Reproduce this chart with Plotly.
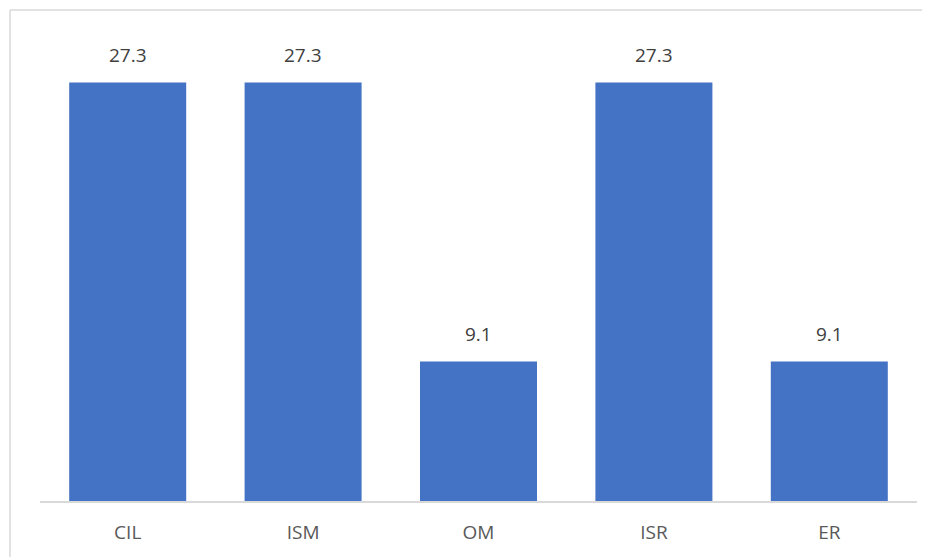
import plotly.graph_objects as go

categories = ["CIL", "ISM", "OM", "ISR", "ER"]
values = [27.3, 27.3, 9.1, 27.3, 9.1]
labels = ["27.3", "27.3", "9.1", "27.3", "9.1"]

# page is offset by 8px body margin; compensate
OFF = 8
W, H = 930 - OFF, 557 - OFF
L, R, T, B = 40 - OFF, 12.5, 41 - OFF, 55.5
pw = W - L - R
ph = H - T - B

def px(x):
    return (x - OFF - L) / pw

def py(y):
    return (H - B - (y - OFF)) / ph

fig = go.Figure(go.Bar(
    x=categories, y=values,
    marker=dict(color="#4472C4", line=dict(width=0)),
    width=0.667, hoverinfo="x+y",
))

for c, v, t in zip(categories, values, labels):
    fig.add_annotation(x=c, y=v, text=t, showarrow=False, yanchor="middle",
                       yshift=27, font=dict(family="Open Sans", size=19, color="#404040"))

fig.update_layout(
    width=W, height=H,
    margin=dict(l=L, r=R, t=T, b=B),
    paper_bgcolor="white", plot_bgcolor="white",
    showlegend=False,
    font=dict(family="Open Sans", color="#595959", size=19),
    xaxis=dict(showline=True, linecolor="#d9d9d9", linewidth=1.5,
               ticks="", tickfont=dict(family="Open Sans", size=19, color="#595959"),
               ticklabelstandoff=13),
    yaxis=dict(range=[0, 30], visible=False, showgrid=False, zeroline=False),
    shapes=[
        dict(type="line", xref="paper", yref="paper", x0=px(10), x1=px(10),
             y0=py(10), y1=py(620), line=dict(color="#d9d9d9", width=1.5)),
        dict(type="line", xref="paper", yref="paper", x0=px(10), x1=px(930),
             y0=py(10), y1=py(10), line=dict(color="#d9d9d9", width=1.5)),
    ],
)

fig.write_html("out.html", config={"displayModeBar": False})
